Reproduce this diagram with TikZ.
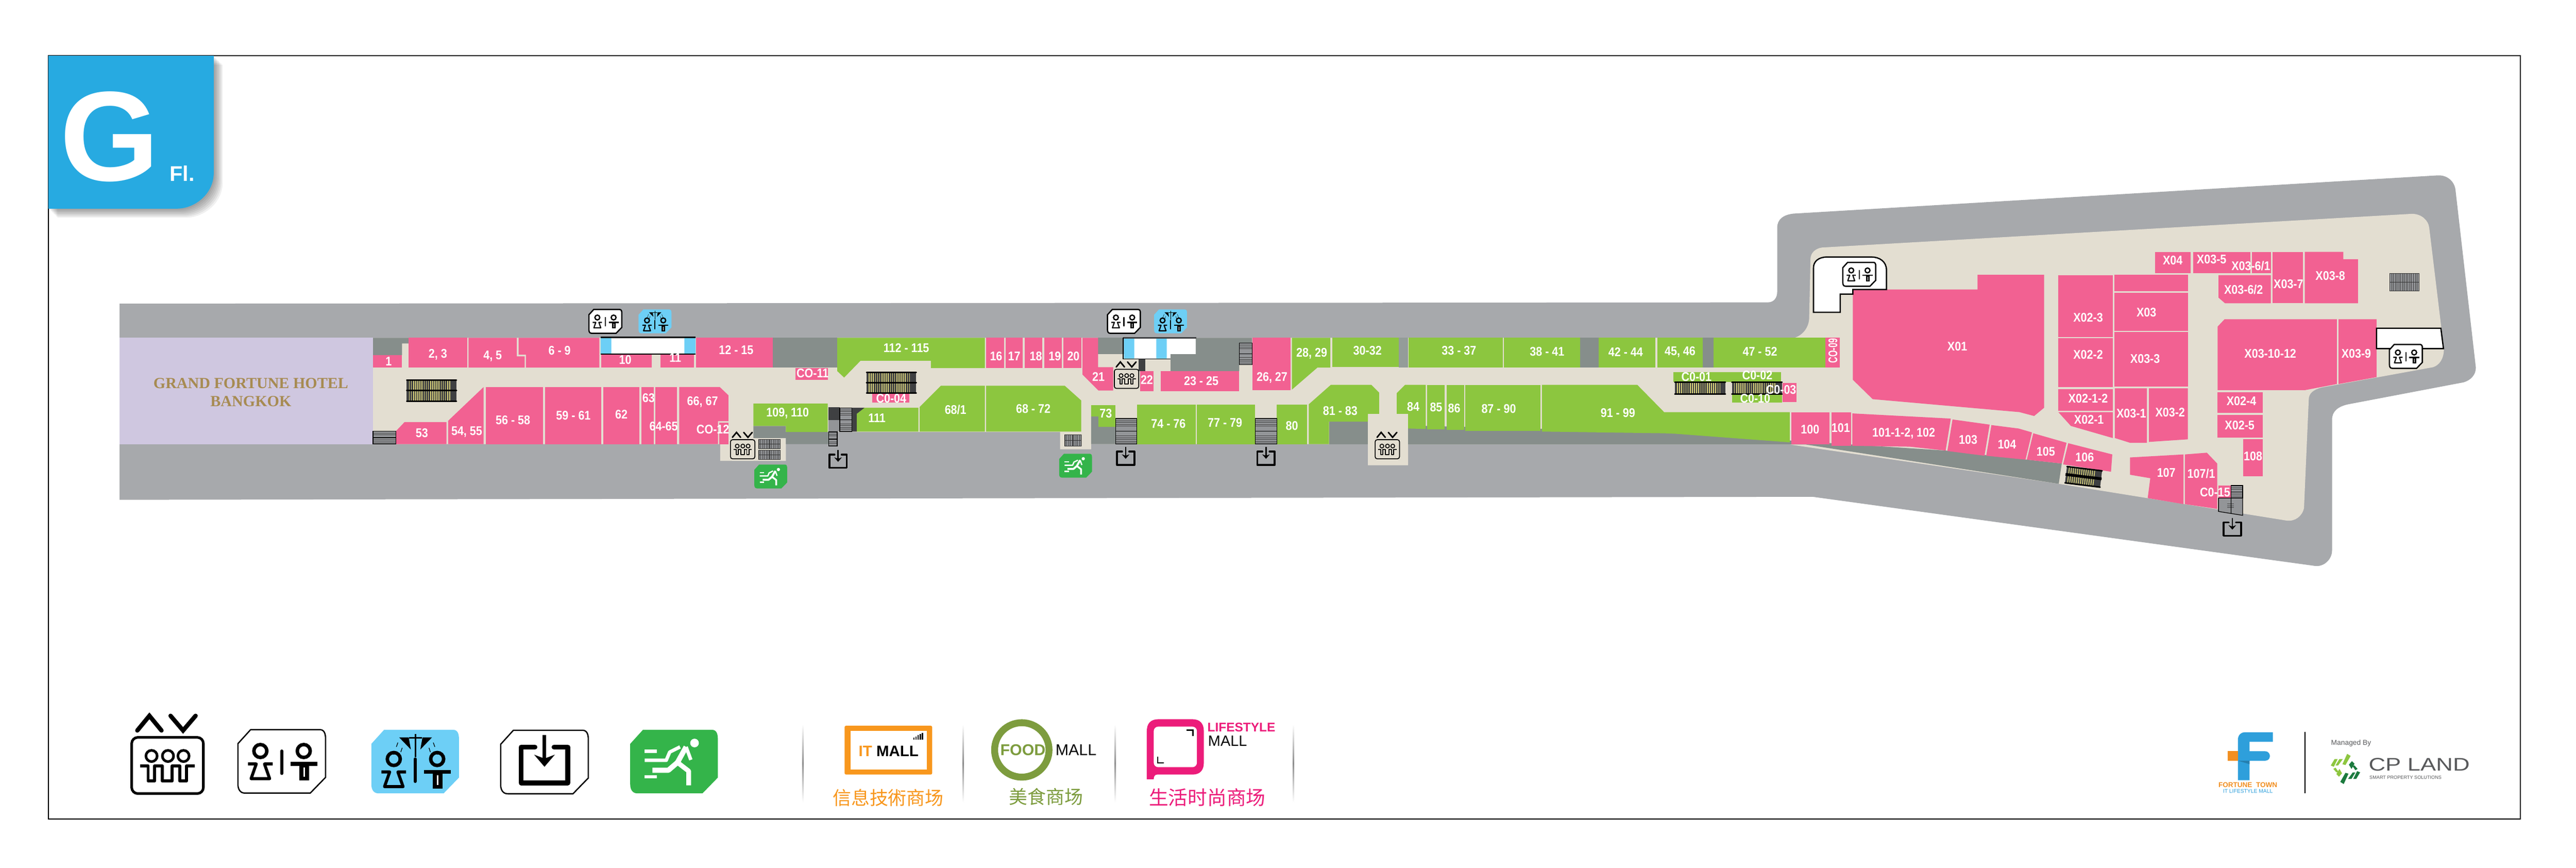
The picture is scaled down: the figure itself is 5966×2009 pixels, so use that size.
\documentclass[tikz,border=0pt]{standalone}
\usepackage{fontspec}
\setmainfont{Liberation Sans}
\newfontfamily\cjk{Noto Sans CJK SC}
\newfontfamily\hotelfont{Liberation Serif}
\newfontfamily\shopfont[FakeStretch=.88]{Liberation Sans}
\definecolor{roadgrey}{HTML}{A7A9AC}
\definecolor{floorbeige}{HTML}{E3DED1}
\definecolor{shaftgrey}{HTML}{868E8B}
\definecolor{shoppink}{HTML}{F26192}
\definecolor{shopgreen}{HTML}{8CC63F}
\definecolor{hotellilac}{HTML}{CFC7E0}
\definecolor{hotelgold}{HTML}{A78B52}
\definecolor{wcblue}{HTML}{6DCFF6}
\definecolor{exitgreen}{HTML}{34B44A}
\definecolor{badgeblue}{HTML}{27AAE1}
\definecolor{escdark}{HTML}{3F4042}
\definecolor{escyellow}{HTML}{DAD47A}
\definecolor{stairgrey}{HTML}{939598}
\definecolor{itorange}{HTML}{F8971D}
\definecolor{foodolive}{HTML}{7D9C3E}
\definecolor{lifepink}{HTML}{EC1C7A}
\definecolor{fblue}{HTML}{2E9FDB}
\definecolor{forange}{HTML}{F18F21}
\definecolor{cpgrey}{HTML}{58595B}
\definecolor{cplight}{HTML}{8DC63F}
\definecolor{cpdark}{HTML}{1B7A3E}
\newcommand{\px}{.2845pt}
\newcommand{\tagshape}{(-72,-73.5) -- (88,-73.5) .. controls (98,-73.5) and (101.5,-65) .. (101.5,-52) -- (101.5,37) -- (66,73.5) -- (-85,73.5) .. controls (-96,73.5) and (-101.5,65) .. (-101.5,52) -- (-101.5,-41) -- cycle}
% two figures and the bar between them: #1 shift down, #2 scale
\newcommand{\wcfigs}[2]{%
  \begin{scope}[shift={(0,#1)}]
    \draw[line width=#2*8*\px] (-49.5,-24) circle [radius=15];
    \draw[line width=#2*8*\px] (51,-24) circle [radius=15];
    \draw[line width=#2*7*\px,line join=round] (-78,6) -- (-59,6) -- (-71,40) -- (-28,40) -- (-40,6) -- (-21,6);
    \draw[line width=#2*9*\px] (21,6) -- (82,6);
    \fill (41,6) rectangle (63,44);
    \fill[white] (50.5,14) rectangle (53.5,36);
    \draw[line width=#2*7*\px,line cap=round] (0,-24) -- (0,28);
  \end{scope}}
\newcommand{\wcicon}[3]{%
  \begin{scope}[shift={(#1,#2)},scale=#3]
    \draw[fill=white,line width=3*\px] \tagshape;
    \wcfigs{0}{#3}
  \end{scope}}
\newcommand{\showericon}[3]{%
  \begin{scope}[shift={(#1,#2)},scale=#3]
    \fill[wcblue] \tagshape;
    \wcfigs{18}{#3}
    \draw[line width=#3*3*\px] (1,-64) -- (1,-10);
    \draw[line width=#3*3*\px] (-14,-55) -- (16,-55);
    \fill (-37,-56) -- (-15,-56) -- (-10,-28) -- cycle;
    \fill (39,-56) -- (17,-56) -- (12,-28) -- cycle;
    \draw[line width=#3*1.5*\px,dashed] (-40,-44) -- (-50,-16) (-30,-32) -- (-38,-8);
    \draw[line width=#3*1.5*\px,dashed] (42,-44) -- (52,-16) (32,-32) -- (40,-8);
  \end{scope}}
\newcommand{\lifticon}[3]{%
  \begin{scope}[shift={(#1,#2)},scale=#3]
    \draw[line width=#3*6*\px,rounded corners=#3*4pt] (-83,-65) rectangle (83,65);
    \foreach \hx in {-37,1,37}
      \draw[line width=#3*6*\px] (\hx,-22) circle [radius=13];
    \draw[line width=#3*7*\px,line join=round] (-63,1) -- (-45,1) -- (-45,36) -- (-30,36) -- (-30,1) -- (-12,1) -- (-12,36) -- (11,36) -- (11,1) -- (28,1) -- (28,36) -- (44,36) -- (44,1) -- (63,1);
    \draw[line width=#3*10*\px,line cap=round] (-70,-81) -- (-42,-115) -- (-14,-81);
    \draw[line width=#3*10*\px,line cap=round] (7,-115) -- (36,-81) -- (65,-115);
  \end{scope}}
\newcommand{\exitbox}[3]{%
  \begin{scope}[shift={(#1,#2)},scale=#3]
    \draw[line width=#3*11*\px,line join=round,line cap=round] (-22,-34.5) -- (-54,-34.5) -- (-54,48.5) -- (54,48.5) -- (54,-34.5) -- (22,-34.5);
    \draw[line width=#3*8*\px] (0,-62) -- (0,-8);
    \fill (-24,-17) -- (0,-8) -- (24,-17) -- (0,11) -- cycle;
  \end{scope}}
\newcommand{\runicon}[3]{%
  \begin{scope}[shift={(#1,#2)},scale=#3]
    \fill[exitgreen] \tagshape;
    \fill[white] (47.5,-43) circle [radius=10];
    \draw[white,line width=#3*12*\px,line join=round] (28,-34) -- (8,2) -- (-13,20) -- (-50,20);
    \draw[white,line width=#3*11*\px,line join=round] (8,2) -- (34,22) -- (34,55);
    \draw[white,line width=#3*8*\px,line join=round] (28,-34) -- (39,-4);
    \draw[white,line width=#3*8*\px,line join=round] (14,-34) -- (-10,-22) -- (-18,-3) -- (-68,-3);
    \draw[white,line width=#3*8*\px] (-68,-24) -- (-40,-24) (-68,35) -- (-40,35);
  \end{scope}}
% moving stairs: corners #1,#2 and #3,#4
\newcommand{\escal}[4]{%
  \fill[escdark] (#1,#2) rectangle (#3,#4);
  \draw[escyellow,line width=(#4-#2)*0.01cm,dash pattern=on .55pt off .85pt] (#1+5,#2/2+#4/2) -- (#3-13,#2/2+#4/2);
  \draw[black,line width=3.5*\px,line cap=round] (#1,#2) -- (#3,#2) (#1,#4) -- (#3,#4);}
\newcommand{\stairh}[4]{%
  \fill[stairgrey] (#1,#2) rectangle (#3,#4);
  \draw[black!75,line width=(#3-#1)*0.01cm,dash pattern=on .3pt off .9pt] (#1/2+#3/2,#2) -- (#1/2+#3/2,#2/3+#2/3+#4/3);
  \draw[black!75,line width=(#3-#1)*0.01cm,dash pattern=on .3pt off .9pt] (#1/2+#3/2,#2/3+#4/3+#4/3) -- (#1/2+#3/2,#4);
  \draw[black,line width=1.5*\px] (#1,#2) rectangle (#3,#4) (#1,#2/2+#4/2) -- (#3,#2/2+#4/2);}
\newcommand{\stairv}[4]{%
  \fill[stairgrey] (#1,#2) rectangle (#3,#4);
  \draw[black!75,line width=(#4-#2)*0.01cm,dash pattern=on .3pt off .9pt] (#1,#2/2+#4/2) -- (#3,#2/2+#4/2);
  \draw[black!80,line width=1.2*\px] (#1,#2) rectangle (#3,#4) (#1/2+#3/2,#2) -- (#1/2+#3/2,#4) (#1,#2/2+#4/2) -- (#3,#2/2+#4/2);}
\newcommand{\cpbars}{(5436,1745) -- (5444,1750) -- (5432,1771) -- (5425,1769) -- cycle (5407,1757) -- (5414,1757) -- (5405,1775) -- (5398,1772) -- cycle (5418,1757) -- (5426,1757) -- (5415,1772) -- (5409,1772) -- cycle (5404,1780) -- (5409,1777) -- (5416,1787) -- (5411,1788) -- cycle (5418,1780) -- (5424,1790) -- (5417,1798) -- (5411,1792) -- cycle}

\begin{document}
\begin{tikzpicture}[
    x=.01cm, y=-.01cm,
    pinkshop/.style={fill=shoppink},
    greenshop/.style={fill=shopgreen},
    shaft/.style={fill=shaftgrey},
    shoplbl/.style={text=white, inner sep=0pt, font=\shopfont\fontsize{8.3}{9}\selectfont\bfseries},
    wcblock/.style={fill=white, draw=black, line width=3*\px},
    cnlbl/.style={inner sep=0pt, font=\cjk\fontsize{12.2}{13}\selectfont}
]
    \useasboundingbox (0,0) rectangle (5966,2009);
    \fill[white] (0,0) rectangle (5966,2009);
    \draw[black, line width=2.5*\px] (112,129) rectangle (5837,1896);

    % floor badge
    \foreach \off in {3,6,...,21}
        \fill[black, opacity=.06, shift={(\off,\off)}] (112,129) -- (495,129) -- (495,400) .. controls (495,450) and (450,483) .. (410,483) -- (112,483) -- cycle;
    \fill[badgeblue] (112,129) -- (495,129) -- (495,400) .. controls (495,450) and (450,483) .. (410,483) -- (112,483) -- cycle;
    \node[text=white, inner sep=0pt, font=\fontsize{84}{84}\selectfont\bfseries] (floorG) at (254,316) {G};
    \node[text=white, inner sep=0pt, font=\fontsize{14}{14}\selectfont\bfseries] (floorFl) at (422,401) {Fl.};

    % road and floor
    \fill[roadgrey] (277,703) -- (4094,700) .. controls (4108,700) and (4116,690) .. (4116,675) -- (4116,527) .. controls (4116,508) and (4130,497) .. (4154,494.5) -- (5646,406) .. controls (5668,405) and (5685,420) .. (5687,441) -- (5734,851) .. controls (5734,868) and (5722,880) .. (5706,885) -- (5438,936) .. controls (5415,941) and (5401,952) .. (5401,971) -- (5401,1274) .. controls (5401,1295) and (5382,1313) .. (5361,1310) -- (4198,1150) -- (277,1157) -- cycle;
    \fill[floorbeige] (864,782) -- (4156,782) .. controls (4178,775) and (4190,755) .. (4190,735) -- (4193,600) .. controls (4193,585) and (4205,575) .. (4220,573) -- (5586,495) .. controls (5608,495) and (5624,510) .. (5626,527) -- (5660,808) .. controls (5660,830) and (5650,845) .. (5635,850) -- (5377,897) .. controls (5358,902) and (5347,910) .. (5347,925) -- (5336,1176) .. controls (5332,1195) and (5315,1208) .. (5295,1205) -- (4768,1120) -- (4145,1029) -- (3261,1029) -- (3261,1077) -- (3168,1077) -- (3168,1028) -- (2527,1028) -- (2527,1040) -- (2455,1040) -- (2455,1000) -- (1820,1000) -- (1820,1067) -- (1668,1067) -- (1668,1028) -- (864,1028) -- cycle;
    \fill[hotellilac] (277,782) rectangle (864,1028);

    % service areas
    \fill[shaft] (864,782) -- (946,782) -- (946,795) -- (931,795) -- (931,822) -- (864,822) -- cycle;
    \fill[shaft] (1790,782) rectangle (1939,851);
    \fill[shaft] (1745,986) -- (1820,986) -- (1820,1000) -- (1939,1000) -- (1939,1028) -- (1820,1028) -- (1820,1014) -- (1745,1014) -- cycle;
    \fill[shaft] (2543,782) rectangle (2603,820);
    \fill[shaft] (2711,820) -- (2769,820) -- (2769,782) -- (2900,782) -- (2900,844) -- (2870,844) -- (2870,859) -- (2711,859) -- cycle;
    \fill[shaft] (2527,964) -- (2544,964) -- (2544,988) -- (2584,988) -- (2584,1028) -- (2527,1028) -- cycle;
    \fill[shaft] (3078,976) rectangle (3168,1028);
    \fill[shaftgrey!88!white] (3239,782) rectangle (3261,851);
    \fill[shaft] (3659,782) rectangle (3703,851);
    \fill[shaft] (3944,782) rectangle (3969,851);
    \fill[shaft] (3261,985) -- (3879,1000) -- (4149,1020) -- (4506,1043) -- (4775,1073) -- (4768,1120) -- (4182,1029) -- (3261,1029) -- cycle;

    % pink shops, rectangles
    \foreach \xa/\ya/\xb/\yb in {864/822/931/851, 946/782/1082/851, 1393/820/1509/851, 1530/820/1607/851, 1612/782/1790/851,
        1842/852/1918/879, 2284/782/2325/852, 2329/782/2369/852, 2373/782/2414/852, 2418/782/2459/852, 2463/782/2504/852,
        2640/859/2671/906, 2688/859/2870/906, 2900.6/782/2989/903, 2020/912/2106/932, 4228/782/4261/851, 4128/887/4161/931,
        1125/896/1258/1028, 1262/896/1393/1028, 1397/896/1481/1028, 1486/896/1514/1028, 1518/896/1568/1028, 1666/979/1687/1028,
        4149/954/4237/1028, 4242/955/4287/1032,
        4767/637/4893/780, 4897/636/5067/674, 4897/678/5067/766, 4897/769/5067/895, 4767/783/4893/896, 4767/901/4893/951,
        4991/583/5074/632, 5079/583/5212/632, 5215/583/5259/632, 5263/583/5334/702,
        5136/908/5241/956, 5136/960/5241/1013, 5195/1017/5241/1102, 5138/1124/5167/1153}
        \fill[pinkshop] (\xa,\ya) rectangle (\xb,\yb);
    % pink shops, other outlines
    \fill[pinkshop] (1085,782) -- (1197,782) -- (1197,825) -- (1215,825) -- (1215,851) -- (1085,851) -- cycle;
    \fill[pinkshop] (1201,782) -- (1388,782) -- (1388,851) -- (1218,851) -- (1218,821) -- (1201,821) -- cycle;
    \fill[pinkshop] (2507,782) -- (2543,782) -- (2543,850) -- (2578,850) -- (2578,904) -- (2544,904) -- (2507,867) -- cycle;
    \fill[pinkshop] (937,977) -- (1034,977) -- (1034,1028) -- (917,1028) -- (917,998) -- cycle;
    \fill[pinkshop] (1038,974) -- (1120,896) -- (1120,1028) -- (1038,1028) -- cycle;
    \fill[pinkshop] (1573,896) -- (1667,896) -- (1687,915) -- (1687,975) -- (1663,975) -- (1663,1028) -- (1573,1028) -- cycle;
    \fill[pinkshop] (4290,957) -- (4518,969) -- (4506,1043) -- (4423,1034) -- (4290,1032) -- cycle;
    \fill[pinkshop] (4522,971) -- (4608,983) -- (4596,1055) -- (4510,1044) -- cycle;
    \fill[pinkshop] (4612,984) -- (4675,992) -- (4706,1001) -- (4691,1064) -- (4600,1055) -- cycle;
    \fill[pinkshop] (4709,1003) -- (4786,1025) -- (4775,1073) -- (4694,1064) -- cycle;
    \fill[pinkshop] (4790,1026) -- (4892,1052) -- (4889,1092) -- (4778,1075) -- cycle;
    \fill[pinkshop] (4580,636) -- (4734,636) -- (4734,944) -- (4711,963) -- (4677,954) -- (4337,924) -- (4291,879) -- (4291,670) -- (4580,670) -- cycle;
    \fill[pinkshop] (4767,954) -- (4893,954) -- (4893,1014) -- (4796,986) -- cycle;
    \fill[pinkshop] (4898,899) -- (4972,899) -- (4972,1025) -- (4933,1025) -- (4898,1014) -- cycle;
    \fill[pinkshop] (4977,899) -- (5067,899) -- (5067,1017) -- (4977,1023) -- cycle;
    \fill[pinkshop] (5138,637) -- (5259,637) -- (5259,702) -- (5153,702) -- (5138,689) -- cycle;
    \fill[pinkshop] (5338,583) -- (5427,583) -- (5427,600) -- (5461,600) -- (5461,702) -- (5338,702) -- cycle;
    \fill[pinkshop] (5136,756) -- (5152,739) -- (5412,739) -- (5412,889) -- (5339,903) -- (5136,903) -- cycle;
    \fill[pinkshop] (5416,739) -- (5504,739) -- (5504,873) -- (5416,889) -- cycle;
    \fill[pinkshop] (4933,1059) -- (5057,1052) -- (5057,1167) -- (4974,1153) -- (4980,1107) -- (4933,1099) -- cycle;
    \fill[pinkshop] (5060,1052) -- (5111,1048) -- (5135,1073) -- (5135,1178) -- (5060,1167) -- cycle;

    % green shops
    \foreach \xa/\ya/\xb/\yb in {3085/782/3239/850, 3262/782/3480/851, 3483/782/3659/851, 3703/782/3834/851, 3838/782/3944/851, 3969/782/4228/851,
        3875/862/4125/884, 4012/912/4127/932, 2633/937/2769/1028, 2772/937/2907/1028, 2957/937/3027/1028,
        3305/891/3346/994, 3350/891/3391/995, 3394/891/3568/998}
        \fill[greenshop] (\xa,\ya) rectangle (\xb,\yb);
    \fill[greenshop] (1939,782) -- (2281,782) -- (2281,852) -- (2156,852) -- (2156,835) -- (1993,835) -- (1955,874) -- (1939,859) -- cycle;
    \fill[greenshop] (1745,934) -- (1917,934) -- (1917,1000) -- (1820,1000) -- (1820,986) -- (1745,986) -- cycle;
    \fill[greenshop] (2001,944) -- (2127,944) -- (2127,999) -- (1984,999) -- (1984,958) -- cycle;
    \fill[greenshop] (2130,942) -- (2179,893) -- (2281,893) -- (2281,999) -- (2130,999) -- cycle;
    \fill[greenshop] (2284,893) -- (2466,893) -- (2504,927) -- (2504,999) -- (2284,999) -- cycle;
    \fill[greenshop] (2527,938) -- (2583,938) -- (2583,988) -- (2544,988) -- (2544,964) -- (2527,964) -- cycle;
    \fill[greenshop] (2992,782) -- (3081,782) -- (3081,851) -- (3051,851) -- (2992,902) -- cycle;
    \fill[greenshop] (3031,936) -- (3082,891) -- (3176,891) -- (3194,909) -- (3194,958) -- (3168,958) -- (3168,976) -- (3078,976) -- (3078,1028) -- (3031,1028) -- cycle;
    \fill[greenshop] (3235,910) -- (3254,891) -- (3302,891) -- (3302,993) -- (3261,992) -- (3261,958) -- (3235,958) -- cycle;
    \fill[greenshop] (3571,891) -- (3792,891) -- (3854,954) -- (4145,954) -- (4145,1024) -- (3879,1004) -- (3854,1003) -- (3571,999) -- cycle;

    % toilet blocks
    \fill[white] (1391,781) rectangle (1611,820);
    \fill[wcblue] (1391,781) rectangle (1416,820) (1585,781) rectangle (1611,820);
    \draw[black, line width=3*\px] (1391,781) -- (1611,781) (1391,820) -- (1611,820);
    \fill[white] (2603,784) rectangle (2769,820);
    \fill[white] (2603,820) rectangle (2711,830);
    \fill[wcblue] (2603,784) rectangle (2627,830) (2678,784) rectangle (2702,830);
    \draw[escdark, line width=3*\px] (2601,782) -- (2770,782);
    \draw[black, line width=2*\px] (2601,782) -- (2601,831) -- (2711,831);
    \fill[escdark] (2637,832) rectangle (2653,859);
    \draw[wcblock] (4200,723) -- (4262,723) -- (4262,681) -- (4291,681) -- (4291,670) -- (4369,670) -- (4369,625) .. controls (4369,605) and (4352,595) .. (4335,595) -- (4231,595) .. controls (4212,595) and (4200,605) .. (4200,620) -- cycle;
    \draw[wcblock] (5504,807) -- (5504,760) -- (5653,760) -- (5659,807) -- cycle;

    % moving stairs and stair tiles
    \escal{942}{880}{1057}{904}
    \escal{942}{904}{1057}{929}
    \escal{2007}{862}{2122}{886}
    \escal{2007}{886}{2122}{910}
    \escal{3879}{885}{3996}{912}
    \escal{4011}{885}{4127}{912}
    \begin{scope}[rotate around={-7:(4787,1080)}]
        \escal{4787}{1080}{4869}{1097}
        \escal{4787}{1100}{4869}{1118}
    \end{scope}
    \stairh{864}{998}{917}{1028}
    \stairv{1757}{1017}{1807}{1039}
    \stairv{1757}{1042}{1807}{1064}
    \stairh{1919}{1000}{1939}{1033}
    \fill[escdark] (1919,943) rectangle (1945,972);
    \fill[escdark] (1972,944) -- (2002,944) -- (1984,958) -- (1984,999) -- (1972,999) -- cycle;
    \fill[stairgrey] (1919,972) rectangle (1945,999);
    \stairh{1945}{944}{1973}{999}
    \stairv{2466}{1006}{2504}{1033}
    \stairh{2584}{969}{2633}{1028}
    \stairh{2907}{969}{2957}{1028}
    \stairh{2870}{794}{2900}{844}
    \stairv{5534}{633}{5603}{673}
    \stairh{5167}{1124}{5194}{1153}
    \fill[stairgrey] (5138,1153) -- (5194,1153) -- (5194,1193) -- (5138,1184) -- cycle;
    \draw[black!75, line width=.16cm, dash pattern=on .3pt off .9pt] (5166,1166) -- (5166,1178);
    \draw[black, line width=1.5*\px] (5138,1153) -- (5194,1153) -- (5194,1193) -- (5138,1184) -- cycle (5167,1153) -- (5167,1188);

    % icons on the plan
    \wcicon{1402}{744}{.375}
    \showericon{1517}{744}{.375}
    \wcicon{2603}{744}{.375}
    \showericon{2711}{744}{.375}
    \wcicon{4306}{635}{.375}
    \wcicon{5572}{825}{.375}
    \lifticon{1720}{1040}{.34}
    \lifticon{2609}{877}{.34}
    \lifticon{3213}{1040}{.34}
    \exitbox{1941}{1065}{.373}
    \exitbox{2607}{1058}{.373}
    \exitbox{2932}{1058}{.373}
    \exitbox{5170}{1222}{.373}
    \runicon{1785}{1103}{.375}
    \runicon{2491}{1078}{.375}

    % hotel
    \node[text=hotelgold, inner sep=0pt, font=\hotelfont\fontsize{10.2}{10}\selectfont\bfseries] (hotelA) at (581,887) {GRAND FORTUNE HOTEL};
    \node[text=hotelgold, inner sep=0pt, font=\hotelfont\fontsize{10.2}{10}\selectfont\bfseries] (hotelB) at (581,929) {BANGKOK};

    % shop numbers
    \foreach \lx/\ly/\nm/\txt in {900/836/s1/1, 1014/821/s2/{2, 3}, 1141/824/s4/{4, 5}, 1296/812/s6/6 - 9, 1448/833/s10/10, 1564/828/s11/11, 1705/810/s12/12 - 15,
        1882/864/co11/CO-11, 977/1002/s53/53, 1081/1000/s54/{54, 55}, 1188/972/s56/56 - 58, 1328/962/s59/59 - 61, 1439/960/s62/62, 1502/921/s63/63, 1537/987/s64/64-65,
        1627/930/s66/{66, 67}, 1651/994/co12/CO-12, 1824/957/s109/{109, 110}, 2099/805/s112/112 - 115, 2307/825/s16/16, 2349/825/s17/17, 2399/825/s18/18, 2443/825/s19/19, 2486/825/s20/20,
        2544/872/s21/21, 2656/879/s22/22, 2782/882/s23/23 - 25, 2946/874/s26/{26, 27}, 3038/818/s28/{28, 29}, 3167/812/s30/30-32, 3379/812/s33/33 - 37, 3583/814/s38/38 - 41,
        3765/815/s42/42 - 44, 3891/815/s45/{45, 46}, 4076/814/s47/47 - 52, 2064/922/co04/C0-04, 2031/968/s111/111, 2213/948/s68a/{68/1}, 2393/946/s68/68 - 72, 2561/957/s73/73,
        2706/981/s74/74 - 76, 2837/978/s77/77 - 79, 2992/986/s80/80, 3104/951/s81/81 - 83, 3273/942/s84/84, 3326/943/s85/85, 3368/945/s86/86, 3471/946/s87/87 - 90, 3747/956/s91/91 - 99,
        3929/872/co01/C0-01, 4070/869/co02/C0-02, 4125/902/co03/C0-03, 4065/922/co10/C0-10, 4192/994/s100/100, 4263/991/s101/101, 4409/1003/s102/{101-1-2, 102}, 4558/1018/s103/103, 4648/1029/s104/104, 4738/1045/s105/105, 4828/1059/s106/106,
        5017/1094/s107/107, 5098/1096/s107a/{107/1}, 5130/1139/co15/C0-15, 5218/1056/s108/108, 4533/802/x01/X01, 4836/735/x023/X02-3, 4971/723/x03/X03, 4968/830/x033/X03-3, 4836/821/x022/X02-2,
        4836/923/x0212/X02-1-2, 4838/971/x021/X02-1, 4936/957/x031/X03-1, 5026/955/x032/X03-2, 5032/603/x04/X04, 5122/600/x035/X03-5, 5213/616/x0361/{X03-6/1}, 5196/670/x0362/{X03-6/2},
        5300/657/x037/X03-7, 5397/639/x038/X03-8, 5258/819/x0310/X03-10-12, 5457/819/x039/X03-9, 5191/928/x024/X02-4, 5187/985/x025/X02-5}
        \node[shoplbl] (\nm) at (\lx,\ly) {\txt};
    \node[shoplbl, rotate=90] (co09) at (4245,812) {\scalebox{.75}[1]{CO-09}};

    % legend icons
    \lifticon{388}{1772}{1}
    \wcicon{652.5}{1762.5}{1}
    \showericon{961.5}{1763}{1}
    \draw[fill=white, line width=3*\px, shift={(1261,1764)}] \tagshape;
    \exitbox{1261}{1764}{1}
    \runicon{1561}{1763}{1}

    % mall legend
    \foreach \dvx in {1860,2231,2583,2996}
        \shade[top color=white, bottom color=white, middle color=black!45] (\dvx-1.5,1677) rectangle (\dvx+1.5,1857);
    \fill[itorange, rounded corners=1pt] (1956,1680) rectangle (2159,1793);
    \fill[white] (1970,1692) rectangle (2146,1781);
    \foreach \bx/\by in {2115/1708, 2120/1705, 2125/1702, 2130/1699, 2135/1697}
        \fill[black] (\bx,\by) rectangle (\bx+3,1712);
    \node[inner sep=0pt, font=\fontsize{10}{10}\selectfont\bfseries] (itmall) at (2058,1739) {\textcolor{itorange}{IT} MALL};
    \node[cnlbl, text=itorange] (itcn) at (2057,1847) {信息技術商场};
    \draw[foodolive, line width=16*\px] (2366.5,1736) circle [radius=63];
    \node[inner sep=0pt, text=foodolive, font=\fontsize{10.3}{10}\selectfont\bfseries] (food) at (2369,1736) {FOOD};
    \node[inner sep=0pt, font=\fontsize{10.3}{10}\selectfont] (foodmall) at (2492,1736) {MALL};
    \node[cnlbl, text=foodolive] (foodcn) at (2423,1844) {美食商场};
    \fill[lifepink] (2656,1804) -- (2656,1692) .. controls (2656,1675) and (2665,1665) .. (2682,1665) -- (2762,1665) .. controls (2779,1665) and (2788,1675) .. (2788,1692) -- (2788,1766) .. controls (2788,1783) and (2779,1793) .. (2762,1793) -- (2680,1793) .. controls (2674,1793) and (2672,1798) .. (2672,1804) -- cycle;
    \fill[white, rounded corners=3pt] (2672,1682) rectangle (2772,1776);
    \draw[black, line width=3*\px] (2748,1690) -- (2763,1690) -- (2763,1704);
    \draw[black, line width=3*\px] (2681,1752) -- (2681,1766) -- (2695,1766);
    \node[inner sep=0pt, text=lifepink, font=\fontsize{8.3}{9}\selectfont\bfseries] (lifea) at (2875,1684) {LIFESTYLE};
    \node[inner sep=0pt, font=\fontsize{9.8}{10}\selectfont] (lifeb) at (2843,1715) {MALL};
    \node[cnlbl, text=lifepink, font=\cjk\fontsize{12.8}{13}\selectfont] (lifecn) at (2796,1846) {生活时尚商场};

    % logos
    \fill[fblue] (5183,1806) -- (5183,1712) .. controls (5183,1702) and (5190,1695) .. (5200,1695) -- (5264,1695) -- (5264,1717) -- (5210,1717) -- (5210,1739) -- (5246,1739) .. controls (5253,1739) and (5257,1745) .. (5257,1750) .. controls (5257,1756) and (5253,1761) .. (5246,1761) -- (5210,1761) -- (5210,1806) -- cycle;
    \fill[forange] (5159,1739) rectangle (5183,1761);
    \fill[fblue!80!black] (5183,1761) -- (5210,1761) -- (5210,1769) -- cycle;
    \node[inner sep=0pt, text=forange, font=\fontsize{4.6}{5}\selectfont\bfseries] (ftown) at (5206,1817.5) {FORTUNE\ \ TOWN};
    \node[inner sep=0pt, text=fblue, font=\fontsize{3.5}{4}\selectfont] (fsub) at (5206,1832) {IT LIFESTYLE MALL};
    \draw[black, line width=2*\px] (5338,1694) -- (5338,1836);
    \node[inner sep=0pt, anchor=west, text=cpgrey, font=\fontsize{4.7}{5}\selectfont] (managed) at (5398,1720) {Managed By};
    \fill[cplight] \cpbars;
    \fill[cpdark, rotate around={180:(5432,1780)}] \cpbars;
    \node[inner sep=0pt, anchor=west, text=cpgrey, font=\fontsize{12}{12}\selectfont] (cpland) at (5485,1770) {\scalebox{1.28}[1]{CP LAND}};
    \node[inner sep=0pt, anchor=west, text=cpgrey, font=\fontsize{3.1}{4}\selectfont] (cpsmart) at (5487,1800) {SMART PROPERTY SOLUTIONS};
\end{tikzpicture}
\end{document}
